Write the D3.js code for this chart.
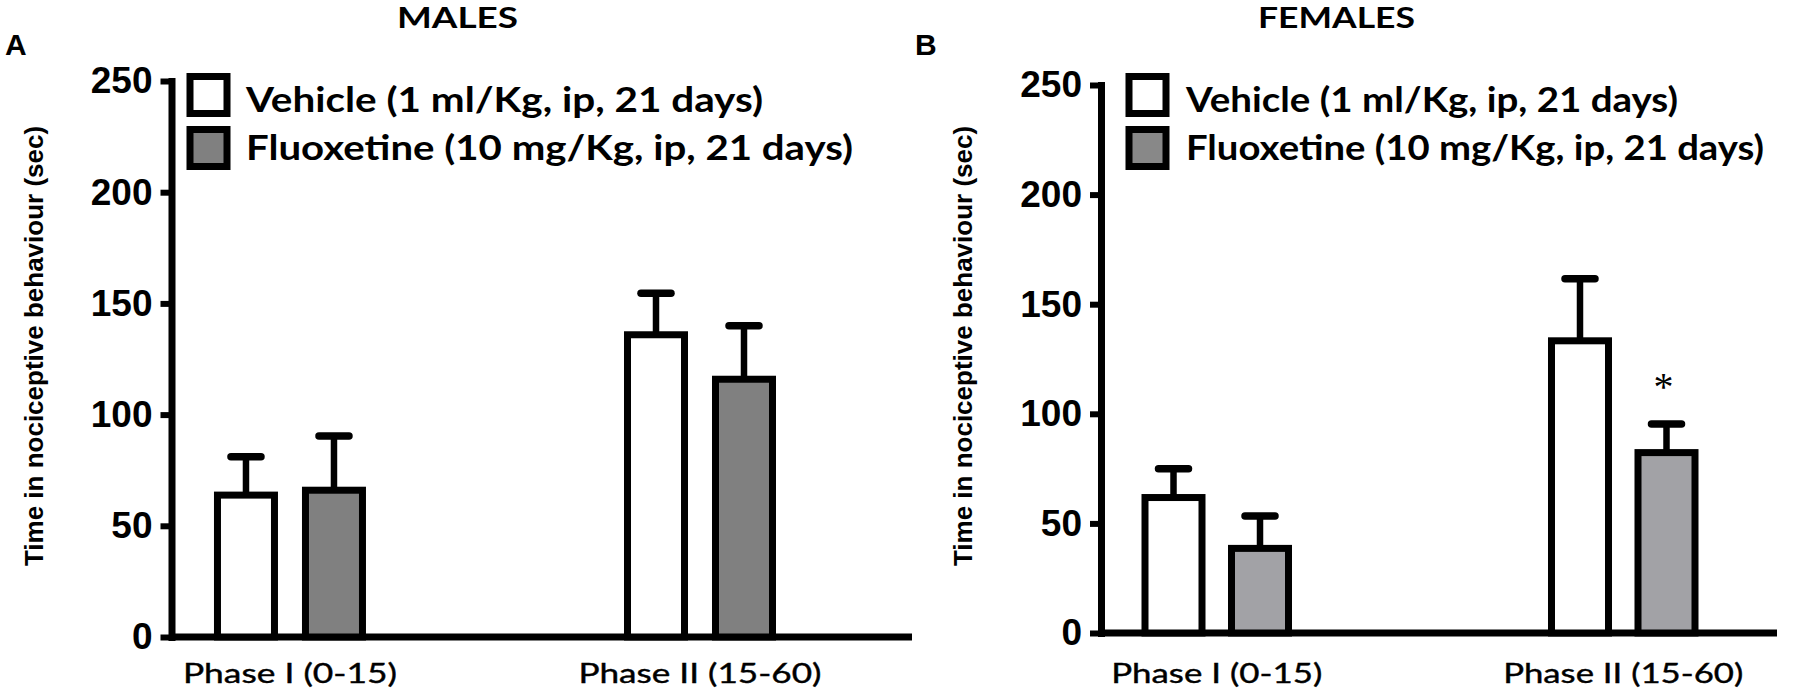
<!DOCTYPE html>
<html>
<head>
<meta charset="utf-8">
<script src="https://cdn.jsdelivr.net/npm/d3@7"></script>
<style>
  body { margin: 0; background: #fff; }
  svg { display: block; }
</style>
</head>
<body>
<div id="chart"></div>
<script>
// datos
const phases = ["Phase I (0-15)", "Phase II (15-60)"];
const series = ["Vehicle (1 ml/Kg, ip, 21 days)", "Fluoxetine (10 mg/Kg, ip, 21 days)"];
const yTicks = [0, 50, 100, 150, 200, 250];
const yTitle = "Time  in nociceptive behaviour (sec)";

const malesVehicle = [63.8, 135.9];
const malesVehicleSem = [17.3, 18.7];
const malesFluoxetine = [66.0, 115.9];
const malesFluoxetineSem = [24.4, 24.0];

const femalesVehicle = [61.8, 133.3];
const femalesVehicleSem = [13.1, 28.3];
const femalesFluoxetine = [38.6, 82.3];
const femalesFluoxetineSem = [14.8, 13.0];
const femalesFluoxetineMark = ["", "*"];

const W = 1800, H = 699;

const svg = d3.select("#chart").append("svg")
  .attr("width", W)
  .attr("height", H);

// configuracion de cada panel (posiciones y estilos)
const panels = [
  {
    letter: "A", letterX: 5, title: "MALES", titleX: 457.5, titleW: 121,
    axisX: 171.5, xEnd: 912, y0: 637, y1: 81, pad: 0.403, align: 0.3585, half: 88,
    yTitleX: 43, yTitleY: 346,
    legendX: 208.5, legendTextX: 246, legendW: [517, 607],
    labelW: [214, 243],
    fills: ["#ffffff", "#808080"], legendFills: ["#ffffff", "#808080"],
    means: [malesVehicle, malesFluoxetine],
    sems: [malesVehicleSem, malesFluoxetineSem],
    marks: [["", ""], ["", ""]]
  },
  {
    letter: "B", letterX: 915, title: "FEMALES", titleX: 1336.5, titleW: 157,
    axisX: 1101, xEnd: 1777, y0: 633, y1: 85, pad: 0.3315, align: 0.4295, half: 86.5,
    yTitleX: 972, yTitleY: 346,
    legendX: 1147.5, legendTextX: 1186, legendW: [492, 578],
    labelW: [211, 240],
    fills: ["#ffffff", "#a2a2a6"], legendFills: ["#ffffff", "#888888"],
    means: [femalesVehicle, femalesFluoxetine],
    sems: [femalesVehicleSem, femalesFluoxetineSem],
    marks: [["", ""], femalesFluoxetineMark]
  }
];

const barW = 57;
const stroke = 7;

panels.forEach((p) => {
  const g = svg.append("g");

  const y = d3.scaleLinear().domain([0, 250]).range([p.y0, p.y1]);
  const x0 = d3.scalePoint().domain(phases).range([p.axisX, p.xEnd]).padding(p.pad).align(p.align);
  const x1 = d3.scaleBand().domain(series).range([-p.half, p.half]);

  // letra del panel y titulo
  g.append("text")
    .attr("x", p.letterX).attr("y", 55)
    .attr("font-family", "Liberation Sans, Arial, sans-serif")
    .attr("font-weight", "bold").attr("font-size", 30)
    .text(p.letter);

  g.append("text")
    .attr("x", p.titleX).attr("y", 28)
    .attr("text-anchor", "middle")
    .attr("font-family", "Lato, sans-serif")
    .attr("font-weight", "bold").attr("font-size", 28)
    .attr("textLength", p.titleW).attr("lengthAdjust", "spacingAndGlyphs")
    .text(p.title);

  // eje x (linea base)
  g.append("line")
    .attr("x1", p.axisX).attr("x2", p.xEnd)
    .attr("y1", y(0)).attr("y2", y(0))
    .attr("stroke", "#000").attr("stroke-width", stroke);

  // etiquetas del eje x
  g.selectAll(".xlab").data(phases).enter().append("text")
    .attr("class", "xlab")
    .attr("x", (d) => x0(d))
    .attr("y", 683)
    .attr("text-anchor", "middle")
    .attr("font-family", "Lato, sans-serif")
    .attr("font-size", 27)
    .attr("stroke", "#000").attr("stroke-width", 0.4)
    .attr("textLength", (d, i) => p.labelW[i]).attr("lengthAdjust", "spacingAndGlyphs")
    .text((d) => d);

  // eje y
  const yAxis = g.append("g")
    .attr("transform", `translate(${p.axisX},0)`)
    .call(d3.axisLeft(y).tickValues(yTicks).tickSize(11).tickSizeOuter(0).tickPadding(8));
  yAxis.select(".domain").attr("stroke-width", stroke).attr("stroke-linecap", "square");
  yAxis.selectAll(".tick line").attr("stroke-width", 6);
  yAxis.selectAll(".tick text")
    .attr("font-family", "Liberation Sans, Arial, sans-serif")
    .attr("font-weight", "bold")
    .attr("font-size", 37)
    .attr("fill", "#000");

  g.append("text")
    .attr("transform", `translate(${p.yTitleX},${p.yTitleY}) rotate(-90)`)
    .attr("text-anchor", "middle")
    .attr("font-family", "Liberation Sans, Arial, sans-serif")
    .attr("font-weight", "bold")
    .attr("font-size", 26)
    .text(yTitle);

  // barras, barras de error y marcas
  series.forEach((s, si) => {
    const rows = phases.map((ph, i) => ({
      phase: ph, mean: p.means[si][i], sem: p.sems[si][i], mark: p.marks[si][i]
    }));
    const cx = (d) => x0(d.phase) + x1(s) + x1.bandwidth() / 2;

    const err = g.append("g");
    err.selectAll("line.v").data(rows).enter().append("line")
      .attr("class", "v")
      .attr("x1", cx).attr("x2", cx)
      .attr("y1", (d) => y(d.mean))
      .attr("y2", (d) => y(d.mean + d.sem))
      .attr("stroke", "#000").attr("stroke-width", 6.5);
    err.selectAll("line.c").data(rows).enter().append("line")
      .attr("class", "c")
      .attr("x1", (d) => cx(d) - 15).attr("x2", (d) => cx(d) + 15)
      .attr("y1", (d) => y(d.mean + d.sem))
      .attr("y2", (d) => y(d.mean + d.sem))
      .attr("stroke", "#000").attr("stroke-width", 7.5).attr("stroke-linecap", "round");

    g.selectAll(null).data(rows).enter().append("rect")
      .attr("x", (d) => cx(d) - barW / 2)
      .attr("width", barW)
      .attr("y", (d) => y(d.mean))
      .attr("height", (d) => y(0) - y(d.mean))
      .attr("fill", p.fills[si])
      .attr("stroke", "#000")
      .attr("stroke-width", stroke);

    g.selectAll(null).data(rows.filter((d) => d.mark)).enter().append("text")
      .attr("x", (d) => cx(d) - 3)
      .attr("y", (d) => y(d.mean + d.sem) - 24)
      .attr("text-anchor", "middle")
      .attr("font-family", "Liberation Serif, serif")
      .attr("font-size", 40)
      .text((d) => d.mark);

    // leyenda
    g.append("rect")
      .attr("x", p.legendX - 18.5)
      .attr("y", 95 + si * 53 - 18.5)
      .attr("width", 37).attr("height", 37)
      .attr("fill", p.legendFills[si])
      .attr("stroke", "#000").attr("stroke-width", stroke);
    g.append("text")
      .attr("x", p.legendTextX)
      .attr("y", 112 + si * 48)
      .attr("font-family", "Lato, sans-serif")
      .attr("font-weight", "bold")
      .attr("font-size", 34)
      .attr("textLength", p.legendW[si]).attr("lengthAdjust", "spacingAndGlyphs")
      .text(s);
  });
});
</script>
</body>
</html>
